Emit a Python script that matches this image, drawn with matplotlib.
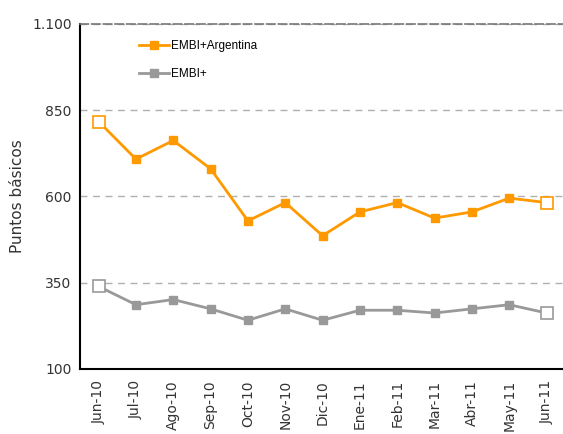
import matplotlib
matplotlib.use("Agg")
import matplotlib.pyplot as plt

meses = ['Jun-10', 'Jul-10', 'Ago-10', 'Sep-10', 'Oct-10', 'Nov-10', 'Dic-10',
         'Ene-11', 'Feb-11', 'Mar-11', 'Abr-11', 'May-11', 'Jun-11']
embi_arg = [817, 708, 762, 680, 529, 582, 486, 555, 582, 537, 555, 595, 582]
embi_plus = [339, 286, 301, 274, 241, 274, 241, 270, 270, 262, 274, 286, 262]
yticks = [100, 350, 600, 850, 1100]
ytick_labels = ['100', '350', '600', '850', '1.100']

naranja = '#FF9900'
gris = '#999999'

fig = plt.figure(figsize=(5.63, 4.34), dpi=100)
ax = fig.add_axes([0.142, 0.150, 0.862, 0.795])

x = list(range(len(meses)))
ax.plot(x, embi_arg, color=naranja, lw=2.0, marker='s', ms=5.8,
        label='EMBI+Argentina')
ax.plot(x, embi_plus, color=gris, lw=2.0, marker='s', ms=5.8,
        label='EMBI+')

# extremos con marcador hueco
for serie, col in [(embi_arg, naranja), (embi_plus, gris)]:
    ax.plot([x[0], x[-1]], [serie[0], serie[-1]], ls='none', marker='s',
            ms=9, mfc='white', mec=col, mew=1.2)

ax.set_xlim(-0.5, len(meses) - 0.5)
ax.set_ylim(100, 1100)
ax.set_yticks(yticks)
ax.set_yticklabels(ytick_labels)
ax.set_xticks(x)
ax.set_xticklabels(meses, rotation=90)
ax.tick_params(length=0, labelsize=10, colors='#333333', pad=6)
ax.tick_params(axis='x', pad=8)

ax.yaxis.grid(True, ls=(0, (5, 4)), color='#b0b0b0', lw=1)
ax.set_axisbelow(True)
ax.spines['right'].set_visible(False)
ax.spines['top'].set_linestyle((0, (5, 2)))
ax.spines['top'].set_color('#777777')
ax.spines['top'].set_linewidth(1.2)
ax.spines['left'].set_color('black')
ax.spines['bottom'].set_color('black')
ax.spines['left'].set_linewidth(1.5)
ax.spines['bottom'].set_linewidth(1.5)

ax.set_ylabel('Puntos básicos', fontsize=11, color='#333333', labelpad=5)

leg = ax.legend(loc='upper left', bbox_to_anchor=(0.1, 0.985), frameon=False,
                prop={'family': 'Liberation Sans', 'size': 8.5},
                handlelength=2.5, labelspacing=1.4, handletextpad=0.2)

fig.savefig('out.png', dpi=100)
